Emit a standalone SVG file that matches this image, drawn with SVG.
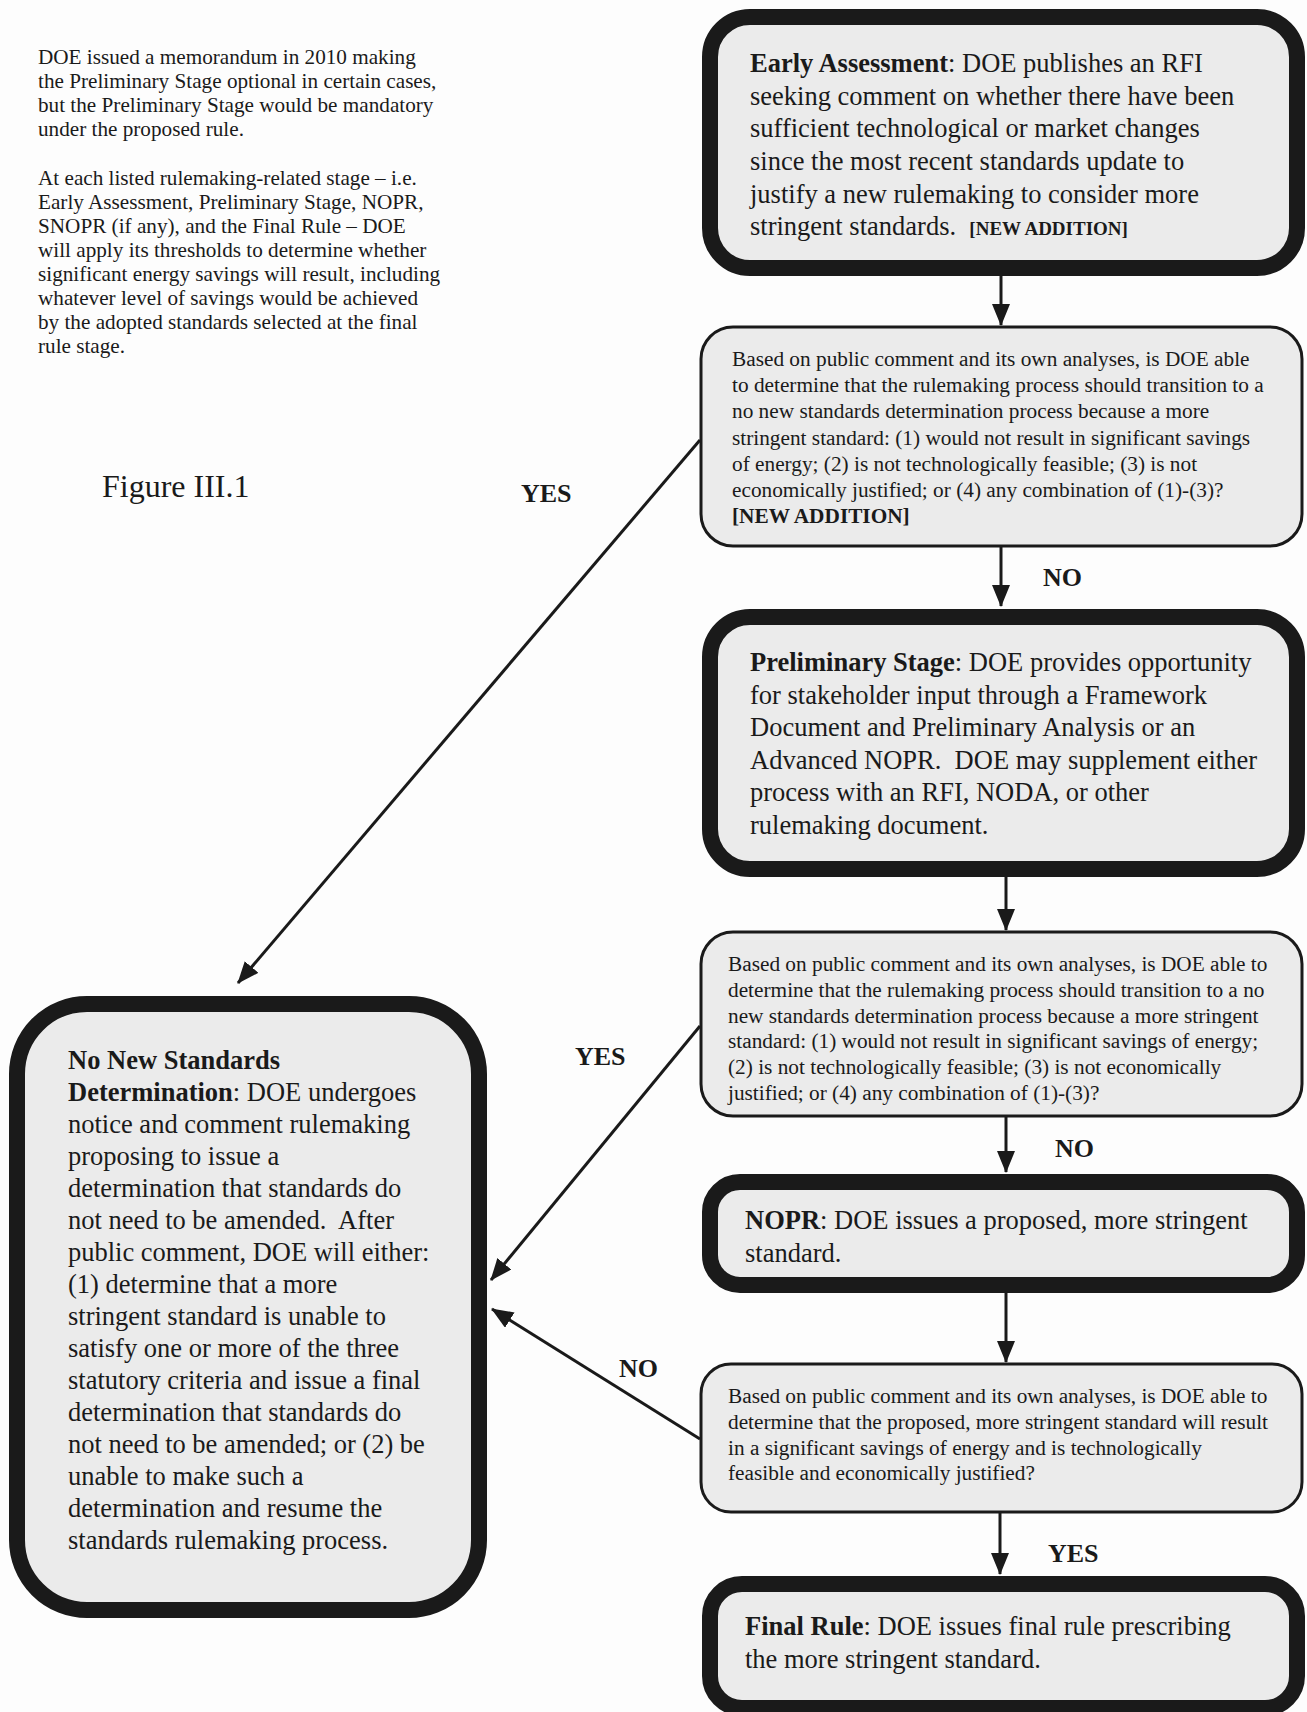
<svg xmlns="http://www.w3.org/2000/svg" width="1307" height="1712" viewBox="0 0 1307 1712">
<defs>
<marker id="ah" markerUnits="userSpaceOnUse" markerWidth="22" markerHeight="18" viewBox="0 0 22 18" refX="21" refY="9" orient="auto">
<path d="M0,0 L22,9 L0,18 Z" fill="#1a1a1a"/>
</marker>
<style>
text{font-family:"Liberation Serif","Times New Roman",serif;fill:#1a1a1a}
.note{font-size:21.2px}
.big{font-size:26.5px}
.mid{font-size:21.3px}
.nn{font-size:26.5px}
.lab{font-size:26px;font-weight:bold}
.fig{font-size:32px}
.b{font-weight:bold}
.thick{fill:#ebebeb;stroke:#1a1a1a;stroke-width:16}
.thin{fill:#ebebeb;stroke:#1a1a1a;stroke-width:3}
.conn{stroke:#1a1a1a;stroke-width:3;fill:none;marker-end:url(#ah)}
</style>
</defs>
<rect x="0" y="0" width="1307" height="1712" fill="#fdfdfd"/>

<g id="note">
<text class="note" x="38" y="64">DOE issued a memorandum in 2010 making</text>
<text class="note" x="38" y="88">the Preliminary Stage optional in certain cases,</text>
<text class="note" x="38" y="112">but the Preliminary Stage would be mandatory</text>
<text class="note" x="38" y="136">under the proposed rule.</text>
<text class="note" x="38" y="185">At each listed rulemaking-related stage – i.e.</text>
<text class="note" x="38" y="209">Early Assessment, Preliminary Stage, NOPR,</text>
<text class="note" x="38" y="233">SNOPR (if any), and the Final Rule – DOE</text>
<text class="note" x="38" y="257">will apply its thresholds to determine whether</text>
<text class="note" x="38" y="281">significant energy savings will result, including</text>
<text class="note" x="38" y="305">whatever level of savings would be achieved</text>
<text class="note" x="38" y="329">by the adopted standards selected at the final</text>
<text class="note" x="38" y="353">rule stage.</text>
</g>

<g id="figure-label">
<text class="fig" x="102" y="497">Figure III.1</text>
</g>

<g id="connectors">
<line class="conn" x1="1001" y1="276" x2="1001" y2="325"/>
<line class="conn" x1="1001" y1="546" x2="1001" y2="606"/>
<line class="conn" x1="1006" y1="877" x2="1006" y2="930"/>
<line class="conn" x1="1006" y1="1116" x2="1006" y2="1172"/>
<line class="conn" x1="1006" y1="1293" x2="1006" y2="1362"/>
<line class="conn" x1="1000" y1="1512" x2="1000" y2="1574"/>
<line class="conn" x1="700" y1="440" x2="238" y2="983"/>
<line class="conn" x1="700" y1="1026" x2="491" y2="1280"/>
<line class="conn" x1="700" y1="1439" x2="492" y2="1309"/>
<text class="lab" x="521" y="502">YES</text>
<text class="lab" x="1043" y="586">NO</text>
<text class="lab" x="1055" y="1157">NO</text>
<text class="lab" x="575" y="1065">YES</text>
<text class="lab" x="619" y="1377">NO</text>
<text class="lab" x="1048" y="1562">YES</text>
</g>

<g id="early-assessment">
<rect class="thick" x="710" y="17" width="587" height="251" rx="40"/>
<text class="big" x="750" y="72"><tspan class="b">Early Assessment</tspan>: DOE publishes an RFI</text>
<text class="big" x="750" y="105">seeking comment on whether there have been</text>
<text class="big" x="750" y="137">sufficient technological or market changes</text>
<text class="big" x="750" y="170">since the most recent standards update to</text>
<text class="big" x="750" y="203">justify a new rulemaking to consider more</text>
<text class="big" x="750" y="235" xml:space="preserve">stringent standards.  <tspan class="b" style="font-size:19px">[NEW ADDITION]</tspan></text>
</g>

<g id="decision-1">
<rect class="thin" x="701" y="327" width="601" height="219" rx="32"/>
<text class="mid" x="732" y="366">Based on public comment and its own analyses, is DOE able</text>
<text class="mid" x="732" y="392">to determine that the rulemaking process should transition to a</text>
<text class="mid" x="732" y="418">no new standards determination process because a more</text>
<text class="mid" x="732" y="445">stringent standard: (1) would not result in significant savings</text>
<text class="mid" x="732" y="471">of energy; (2) is not technologically feasible; (3) is not</text>
<text class="mid" x="732" y="497">economically justified; or (4) any combination of (1)-(3)?</text>
<text class="mid b" x="732" y="523">[NEW ADDITION]</text>
</g>

<g id="preliminary-stage">
<rect class="thick" x="710" y="617" width="587" height="252" rx="40"/>
<text class="big" x="750" y="671"><tspan class="b">Preliminary Stage</tspan>: DOE provides opportunity</text>
<text class="big" x="750" y="704">for stakeholder input through a Framework</text>
<text class="big" x="750" y="736">Document and Preliminary Analysis or an</text>
<text class="big" x="750" y="769" xml:space="preserve">Advanced NOPR.  DOE may supplement either</text>
<text class="big" x="750" y="801">process with an RFI, NODA, or other</text>
<text class="big" x="750" y="834">rulemaking document.</text>
</g>

<g id="decision-2">
<rect class="thin" x="701" y="932" width="601" height="184" rx="32"/>
<text class="mid" x="728" y="971">Based on public comment and its own analyses, is DOE able to</text>
<text class="mid" x="728" y="997">determine that the rulemaking process should transition to a no</text>
<text class="mid" x="728" y="1023">new standards determination process because a more stringent</text>
<text class="mid" x="728" y="1048">standard: (1) would not result in significant savings of energy;</text>
<text class="mid" x="728" y="1074">(2) is not technologically feasible; (3) is not economically</text>
<text class="mid" x="728" y="1100">justified; or (4) any combination of (1)-(3)?</text>
</g>

<g id="nopr">
<rect class="thick" x="710" y="1182" width="587" height="103" rx="30"/>
<text class="big" x="745" y="1229"><tspan class="b">NOPR</tspan>: DOE issues a proposed, more stringent</text>
<text class="big" x="745" y="1262">standard.</text>
</g>

<g id="decision-3">
<rect class="thin" x="701" y="1364" width="601" height="148" rx="30"/>
<text class="mid" x="728" y="1403">Based on public comment and its own analyses, is DOE able to</text>
<text class="mid" x="728" y="1429">determine that the proposed, more stringent standard will result</text>
<text class="mid" x="728" y="1455">in a significant savings of energy and is technologically</text>
<text class="mid" x="728" y="1480">feasible and economically justified?</text>
</g>

<g id="final-rule">
<rect class="thick" x="710" y="1584" width="587" height="124" rx="32"/>
<text class="big" x="745" y="1635"><tspan class="b">Final Rule</tspan>: DOE issues final rule prescribing</text>
<text class="big" x="745" y="1668">the more stringent standard.</text>
</g>

<g id="no-new-standards">
<rect class="thick" x="17" y="1004" width="462" height="606" rx="70"/>
<text class="nn b" x="68" y="1069">No New Standards</text>
<text class="nn" x="68" y="1101"><tspan class="b">Determination</tspan>: DOE undergoes</text>
<text class="nn" x="68" y="1133">notice and comment rulemaking</text>
<text class="nn" x="68" y="1165">proposing to issue a</text>
<text class="nn" x="68" y="1197">determination that standards do</text>
<text class="nn" x="68" y="1229" xml:space="preserve">not need to be amended.  After</text>
<text class="nn" x="68" y="1261">public comment, DOE will either:</text>
<text class="nn" x="68" y="1293">(1) determine that a more</text>
<text class="nn" x="68" y="1325">stringent standard is unable to</text>
<text class="nn" x="68" y="1357">satisfy one or more of the three</text>
<text class="nn" x="68" y="1389">statutory criteria and issue a final</text>
<text class="nn" x="68" y="1421">determination that standards do</text>
<text class="nn" x="68" y="1453">not need to be amended; or (2) be</text>
<text class="nn" x="68" y="1485">unable to make such a</text>
<text class="nn" x="68" y="1517">determination and resume the</text>
<text class="nn" x="68" y="1549">standards rulemaking process.</text>
</g>
</svg>
